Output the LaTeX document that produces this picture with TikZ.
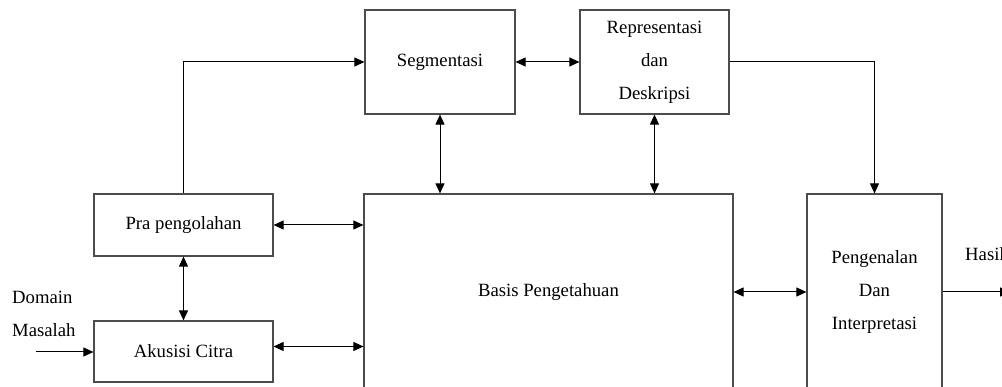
\documentclass[tikz,border=0pt]{standalone}
\usepackage{fontspec}
\setmainfont{Liberation Serif}
\usetikzlibrary{arrows.meta}

\begin{document}
\begin{tikzpicture}
        [x=1pt,y=-1pt,
        every node/.style={inner sep=0pt,font=\fontsize{18.7}{33}\selectfont},
        blok/.style={draw=black!70,line width=1.2pt,align=center},
        panah/.style={draw=black,line width=1pt,-{Triangle[length=10pt,width=9pt]}},
        duaarah/.style={panah,{Triangle[length=10pt,width=9pt]}-{Triangle[length=10pt,width=9pt]}}]
		\clip (0,0) rectangle (1002,387);
		% kotak atas
		\node[blok,minimum width=150pt,minimum height=104pt] (segmentasi) at (440,62) {Segmentasi};
		\node[blok,minimum width=149pt,minimum height=104pt] (representasi) at (654.5,62)
			{Representasi\\dan\\Deskripsi};
		% kotak kiri
		\node[blok,minimum width=179pt,minimum height=62pt] (pra) at (183.5,225) {Pra pengolahan};
		\node[blok,minimum width=179pt,minimum height=61pt] (akusisi) at (183.5,351.5) {Akusisi Citra};
		% kotak bawah (terpotong)
		\node[blok,minimum width=369pt,minimum height=196pt] (basis) at (548.5,292) {Basis Pengetahuan};
		\node[blok,minimum width=135pt,minimum height=196pt] (pengenalan) at (874.5,292)
			{Pengenalan\\Dan\\Interpretasi};
		% teks luar
		\node[anchor=west,align=left] (domain) at (12,314) {Domain\\Masalah};
		\node[anchor=west] (hasil) at (965,254) {Hasil};
		\coordinate (masuk) at (36,352);
		\coordinate (keluar) at (1010,292);
		% panah
		\draw[panah] (masuk) -- (masuk -| akusisi.west);
		\draw[panah] (pra.north) |- (segmentasi.west);
		\draw[duaarah] (segmentasi.east) -- (representasi.west);
		\draw[duaarah] (segmentasi.south) -- (segmentasi.south |- basis.north);
		\draw[duaarah] (representasi.south) -- (representasi.south |- basis.north);
		\draw[panah] (representasi.east) -| (pengenalan.north);
		\draw[duaarah] (pra.east) -- (pra.east -| basis.west);
		\draw[duaarah] ([yshift=5pt]akusisi.east) -- ([yshift=5pt]akusisi.east -| basis.west);
		\draw[duaarah] (pra.south) -- (akusisi.north);
		\draw[duaarah] (basis.east) -- (pengenalan.west);
		\draw[panah] (pengenalan.east) -- (keluar);
	\end{tikzpicture}
\end{document}
